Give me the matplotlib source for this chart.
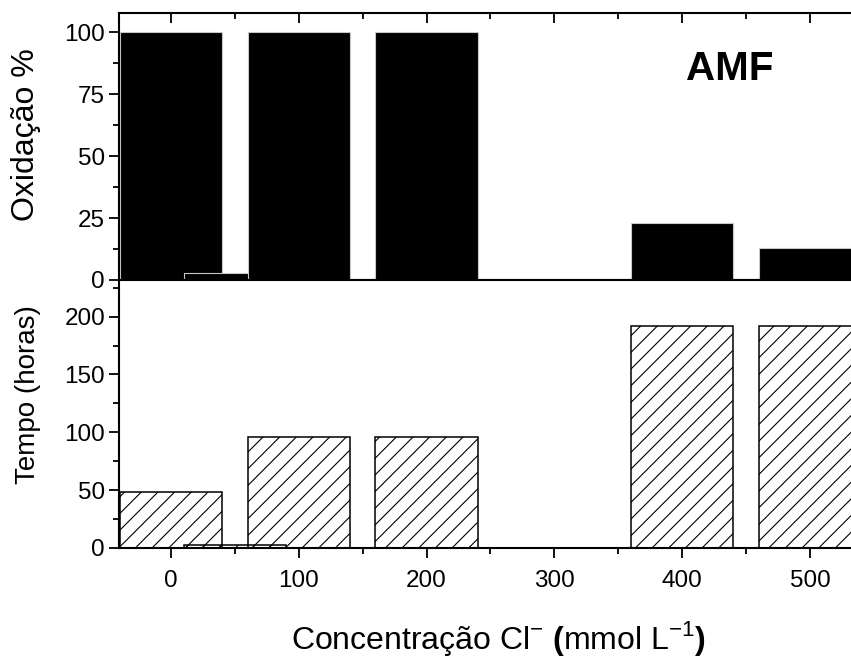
import matplotlib
matplotlib.use("Agg")
import matplotlib.pyplot as plt
from matplotlib.ticker import MultipleLocator

plt.rcParams['font.family'] = ['Liberation Sans', 'DejaVu Sans']
plt.rcParams['mathtext.fontset'] = 'custom'
plt.rcParams['mathtext.rm'] = 'Liberation Sans'
plt.rcParams['mathtext.bf'] = 'Liberation Sans:bold'
plt.rcParams['hatch.linewidth'] = 0.8
plt.rcParams['hatch.color'] = 'black'

# concentration of Cl- (mmol/L) for each bar
conc = [0, 50, 100, 200, 400, 500]
# oxidation %
oxid = [100, 3, 100, 100, 23, 13]
# time (hours)
tempo = [48, 3, 96, 96, 192, 192]

W, H = 851, 658
fig = plt.figure(figsize=(W / 100, H / 100), dpi=100)

left = 119 / W
width = 732 / W
ax1 = fig.add_axes([left, 1 - 280 / H, width, 267 / H])
ax2 = fig.add_axes([left, 1 - 548 / H, width, 268 / H])

# top: black bars
ax1.bar(conc, oxid, width=80, color='black', edgecolor='#c8c8c8', linewidth=0.8)
# bottom: hatched, unfilled
ax2.bar(conc, tempo, width=80, facecolor='none', edgecolor='black',
        linewidth=1.1, hatch='//')

for ax in (ax1, ax2):
    ax.set_xlim(-40.7, 532.1)
    ax.spines['right'].set_visible(False)
    for s in ('left', 'top', 'bottom'):
        ax.spines[s].set_linewidth(1.5)
    ax.xaxis.set_major_locator(MultipleLocator(100))
    ax.xaxis.set_minor_locator(MultipleLocator(50))
    ax.tick_params(axis='y', which='major', direction='out', length=7, width=1.3,
                   labelsize=17.5, pad=3)
    ax.tick_params(axis='y', which='minor', direction='out', length=4, width=1.3)
    ax.tick_params(axis='y', right=False)

ax1.set_ylim(0, 107.7)
ax1.yaxis.set_major_locator(MultipleLocator(25))
ax1.yaxis.set_minor_locator(MultipleLocator(12.5))
ax1.tick_params(axis='x', which='both', top=True, bottom=True, labelbottom=False,
                direction='out', width=1.3)
ax1.tick_params(axis='x', which='major', length=7)
ax1.tick_params(axis='x', which='minor', length=4)
# top spine ticks point inward
for t in ax1.xaxis.get_major_ticks() + ax1.xaxis.get_minor_ticks():
    t.tick2line.set_marker(3)

ax2.set_ylim(0, 231.7)
ax2.yaxis.set_major_locator(MultipleLocator(50))
ax2.yaxis.set_minor_locator(MultipleLocator(25))
ax2.tick_params(axis='x', which='both', top=False, direction='out', width=1.3)
ax2.tick_params(axis='x', which='major', length=7, labelsize=17.5, pad=8.5)
ax2.tick_params(axis='x', which='minor', length=4)

fig.text(26 / W, 1 - 135 / H, 'Oxidação %', rotation=90, ha='center', va='center',
         fontsize=23)
fig.text(28 / W, 1 - 395 / H, 'Tempo (horas)', rotation=90, ha='center', va='center',
         fontsize=20)
fig.text(498 / W, 1 - 649 / H,
         r'Concentração Cl$^{-}$ $\mathbf{(}$mmol L$^{-1}$$\mathbf{)}$',
         ha='center', va='baseline', fontsize=23)
fig.text(730 / W, 1 - 80 / H, 'AMF', ha='center', va='baseline', fontsize=29,
         fontweight='bold')

fig.savefig('out.png', dpi=100)
